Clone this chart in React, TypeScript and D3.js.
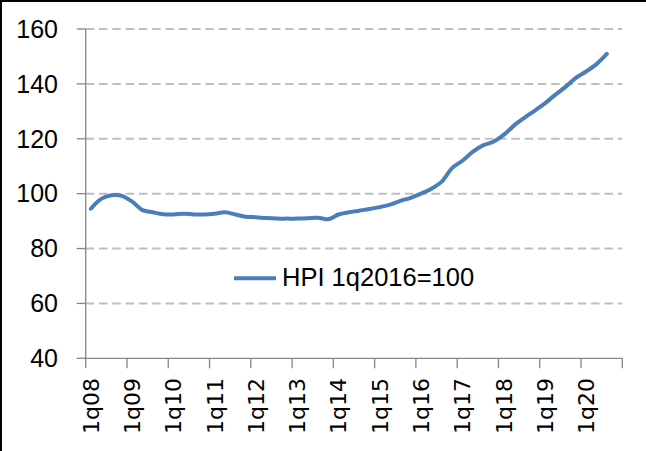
import React from "react";
import * as d3 from "d3";

const years = ["08", "09", "10", "11", "12", "13", "14", "15", "16", "17", "18", "19", "20"];
const quarters = years.flatMap((y) => ["1q" + y, "2q" + y, "3q" + y, "4q" + y]);
const hpiValues = [
  94.5, 98.1, 99.4, 99.2, 97.1, 94.0, 93.2, 92.5, 92.4, 92.7, 92.4, 92.4, 92.7, 93.2, 92.4, 91.6,
  91.4, 91.1, 90.9, 90.9, 90.9, 91.0, 91.2, 90.7, 92.4, 93.2, 93.8, 94.4, 95.1, 96.0, 97.4, 98.5,
  100.0, 101.8, 104.4, 109.3, 112.0, 115.2, 117.6, 118.9, 121.4, 124.8, 127.6, 130.2, 132.9, 136.0, 138.9, 142.2,
  144.5, 147.2, 150.9,
];
const yTicks = [40, 60, 80, 100, 120, 140, 160];
const seriesName = "HPI 1q2016=100";

export default function App() {
  const W = 646, H = 451;
  const left = 85.7, right = 622.3, top = 29, bottom = 358.3;
  const x = d3.scaleBand<string>().domain(quarters).range([left, right]).paddingInner(0).paddingOuter(0);
  const y = d3.scaleLinear().domain([40, 160]).range([bottom, top]);
  const cx = (q: string) => (x(q) as number) + x.bandwidth() / 2;
  const line = d3
    .line<number>()
    .x((_, i) => cx(quarters[i]))
    .y((d) => y(d))
    .curve(d3.curveCatmullRom.alpha(0.5));
  const yearTicks = years.map((_, i) => x(quarters[i * 4]) as number).concat([right]);
  const axisColor = "#868686";
  return (
    <svg width={W} height={H} style={{ position: "absolute", left: 0, top: 0, background: "#fff" }}>
      <rect x={0} y={0} width={W} height={H} fill="#fff" />
      <line x1={0} x2={W} y1={1} y2={1} stroke="#000" strokeWidth={2} />
      <line x1={1} x2={1} y1={0} y2={H} stroke="#000" strokeWidth={2} />
      {yTicks.filter((t) => t > 40).map((t) => (
        <line key={"g" + t} x1={left} x2={right} y1={y(t)} y2={y(t)} stroke="#BFBFBF" strokeWidth={2} strokeDasharray="8.5,4.8" />
      ))}
      <line x1={left} x2={left} y1={top} y2={bottom} stroke={axisColor} strokeWidth={1.3} />
      <line x1={left} x2={right} y1={bottom} y2={bottom} stroke={axisColor} strokeWidth={1.3} />
      {yTicks.map((t) => (
        <g key={"y" + t}>
          <line x1={left - 9} x2={left} y1={y(t)} y2={y(t)} stroke={axisColor} strokeWidth={1.3} />
          <text x={58} y={y(t)} dy="0.35em" textAnchor="end" fontFamily="'Liberation Sans', Arial, sans-serif" fontSize={25} fill="#000">
            {t}
          </text>
        </g>
      ))}
      {yearTicks.map((tx, i) => (
        <line key={"xt" + i} x1={tx} x2={tx} y1={bottom} y2={bottom + 10} stroke={axisColor} strokeWidth={1.3} />
      ))}
      {years.map((yr, i) => {
        const q = quarters[i * 4];
        const px = cx(q);
        return (
          <text
            key={"xl" + yr}
            transform={`translate(${px},378) rotate(-90)`}
            textAnchor="end"
            dy="0.36em"
            fontFamily="'DejaVu Sans', sans-serif"
            fontSize={22}
            fill="#000"
          >
            {q}
          </text>
        );
      })}
      <path d={line(hpiValues) || ""} fill="none" stroke="#4A7EBB" strokeWidth={4} strokeLinecap="round" strokeLinejoin="round" />
      <line x1={234} x2={276} y1={278.3} y2={278.3} stroke="#4A7EBB" strokeWidth={4} />
      <text x={282} y={285.5} fontFamily="'Liberation Sans', Arial, sans-serif" fontSize={25.5} fill="#000">
        {seriesName}
      </text>
    </svg>
  );
}
